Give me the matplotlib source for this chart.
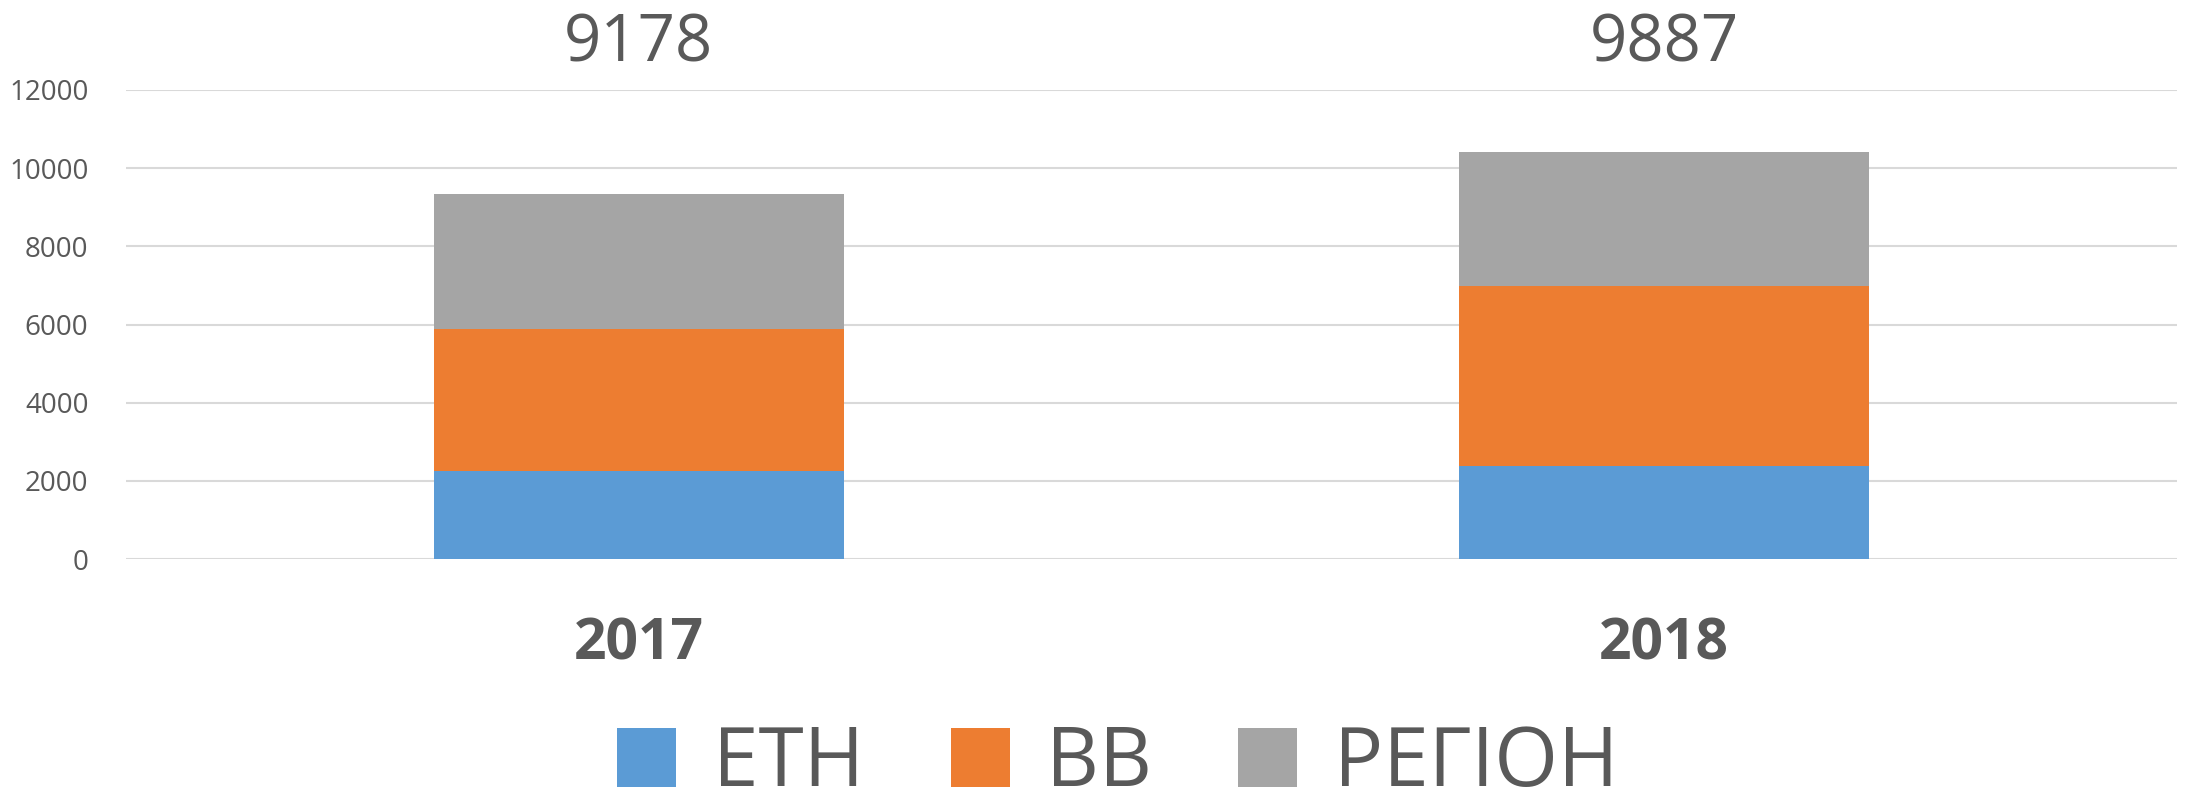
import matplotlib
matplotlib.use("Agg")
import matplotlib.pyplot as plt
from matplotlib.patches import Patch
from matplotlib.transforms import blended_transform_factory

plt.rcParams['font.family'] = ['Open Sans', 'DejaVu Sans']

# data
years = ["2017", "2018"]
eth = [2240, 2390]
bb = [3650, 4600]
region = [3440, 3430]
top_labels = ["9178", "9887"]
series_names = ["ΕΤΗ", "ΒΒ", "ΡΕΓΙΟΗ"]

colors = ["#5B9BD5", "#ED7D31", "#A5A5A5"]
text_color = "#595959"
grid_color = "#D9D9D9"

fig = plt.figure(figsize=(21.88, 8.05), dpi=100)
ax = fig.add_axes([126 / 2188, 1 - 559 / 805, (2177 - 126) / 2188, (559 - 90) / 805])

x = list(range(len(years)))
bottom = [0] * len(years)
for vals, col in zip([eth, bb, region], colors):
    ax.bar(x, vals, width=0.4, bottom=bottom, color=col, zorder=3)
    bottom = [b + v for b, v in zip(bottom, vals)]

ax.set_xlim(-0.5, len(years) - 0.5)
ax.set_ylim(0, 12000)
ax.set_yticks(range(0, 12001, 2000))
ax.yaxis.grid(True, color=grid_color, linewidth=1.5, zorder=0)
ax.tick_params(axis='y', length=0, labelsize=20, labelcolor=text_color, pad=27)
ax.set_xticks([])
for s in ax.spines.values():
    s.set_visible(False)

trans = blended_transform_factory(ax.transData, ax.transAxes)
for xi, yr, lab in zip(x, years, top_labels):
    ax.text(xi, -0.183, yr, transform=trans, ha='center', va='center',
            fontsize=41, fontweight='bold', color=text_color)
    ax.text(xi, 1.098, lab, transform=trans, ha='center', va='center',
            fontsize=47, color=text_color)

handles = [Patch(facecolor=c, edgecolor='none') for c in colors]
fig.legend(handles, series_names, loc='center', bbox_to_anchor=(0.511, 0.05),
           ncol=3, frameon=False, fontsize=59, labelcolor=text_color,
           handlelength=0.72, handleheight=0.72, handletextpad=0.45,
           columnspacing=1.05, borderpad=0)

fig.savefig("out.png", dpi=100)
